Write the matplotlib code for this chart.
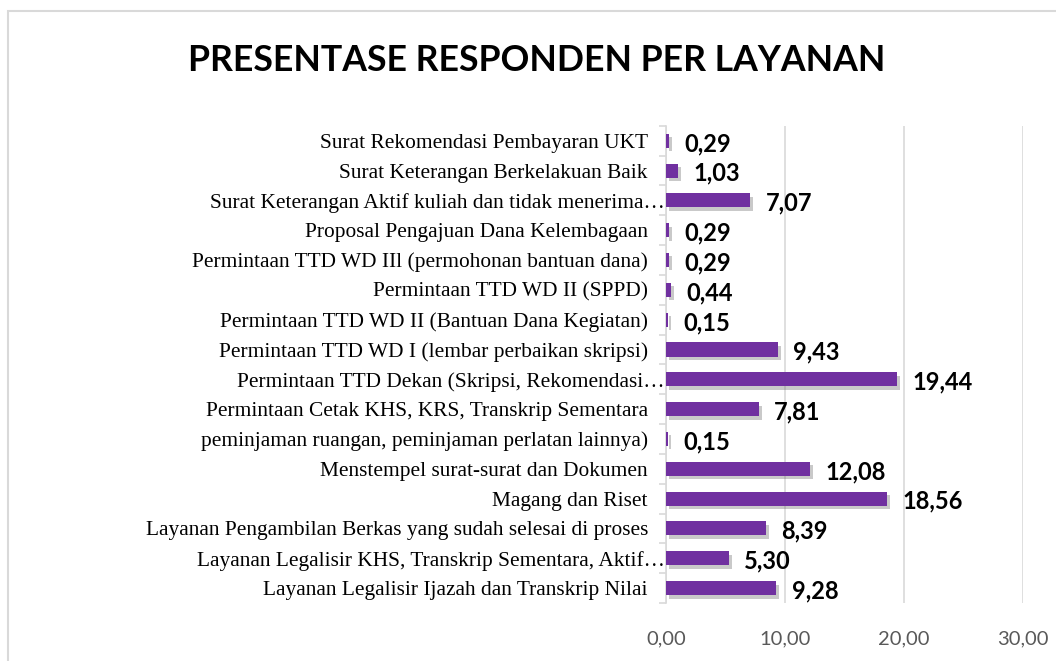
import matplotlib
matplotlib.use("Agg")
import matplotlib.pyplot as plt
import matplotlib.patheffects as pe
from matplotlib.patches import Rectangle
from matplotlib.ticker import FuncFormatter, FixedLocator

# data, bottom to top as in the chart
layanan = [
    "Layanan Legalisir Ijazah dan Transkrip Nilai",
    "Layanan Legalisir KHS, Transkrip Sementara, Aktif\u2026",
    "Layanan Pengambilan Berkas yang sudah selesai di proses",
    "Magang dan Riset",
    "Menstempel surat-surat dan Dokumen",
    "peminjaman ruangan, peminjaman perlatan lainnya)",
    "Permintaan Cetak KHS, KRS, Transkrip Sementara",
    "Permintaan TTD Dekan (Skripsi, Rekomendasi\u2026",
    "Permintaan TTD WD I (lembar perbaikan skripsi)",
    "Permintaan TTD WD II (Bantuan Dana Kegiatan)",
    "Permintaan TTD WD II (SPPD)",
    "Permintaan TTD WD IIl (permohonan bantuan dana)",
    "Proposal Pengajuan Dana Kelembagaan",
    "Surat Keterangan Aktif kuliah dan tidak menerima\u2026",
    "Surat Keterangan Berkelakuan Baik",
    "Surat Rekomendasi Pembayaran UKT",
]
persen = [9.28, 5.30, 8.39, 18.56, 12.08, 0.15, 7.81, 19.44,
          9.43, 0.15, 0.44, 0.29, 0.29, 7.07, 1.03, 0.29]
x_ticks = [0, 10, 20, 30]

def koma(v, pos=None):
    return f"{v:.2f}".replace(".", ",")

fig = plt.figure(figsize=(10.56, 6.61), dpi=100)
# chart border (runs off the right and bottom edge)
fig.patches.append(Rectangle((0.0076, -0.02), 1.0, 1.003, transform=fig.transFigure,
                             fill=False, edgecolor="#D9D9D9", linewidth=1.5))

ax = fig.add_axes([0.6307, 0.0877, 0.338, 0.722])
ypos = list(range(len(layanan)))
bars = ax.barh(ypos, persen, height=0.47, color="#7030A0", zorder=3)
for b in bars:
    b.set_path_effects([pe.SimplePatchShadow(offset=(2, -2.5), shadow_rgbFace="#666666", alpha=0.35),
                        pe.Normal()])

# data labels
for y, v in zip(ypos, persen):
    ax.annotate(koma(v), (v, y), xytext=(11, -2), textcoords="offset points",
                va="center", ha="left", fontsize=17, fontweight="bold",
                family="Lato", color="#000000")

ax.set_xlim(0, 30)
ax.set_ylim(-0.5, len(layanan) - 0.5)
ax.xaxis.set_major_locator(FixedLocator(x_ticks))
ax.xaxis.set_major_formatter(FuncFormatter(koma))
ax.grid(axis="x", color="#D9D9D9", linewidth=1.2, zorder=0)

# category labels drawn by hand: truncated ones run up to the axis like in Excel
ax.set_yticks(ypos)
ax.set_yticklabels([])
for y, nama in zip(ypos, layanan):
    geser = -1 if nama.endswith("\u2026") else -13
    ax.annotate(nama, (0, y), xycoords=ax.get_yaxis_transform(), xytext=(geser, 0),
                textcoords="offset points", ha="right", va="center_baseline",
                family="Liberation Serif", fontsize=15.4, color="#000000")
ax.yaxis.set_minor_locator(FixedLocator([i - 0.5 for i in range(len(layanan) + 1)]))
ax.tick_params(axis="y", which="major", length=0)
ax.tick_params(axis="y", which="minor", length=5, color="#D9D9D9", width=1.2)
ax.tick_params(axis="x", length=0, pad=20, labelsize=14.5, labelcolor="#595959")
for lab in ax.get_xticklabels():
    lab.set_family("Lato")

for s in ["top", "right", "bottom"]:
    ax.spines[s].set_visible(False)
ax.spines["left"].set_color("#D9D9D9")
ax.spines["left"].set_linewidth(1.2)

fig.text(0.508, 0.908, "PRESENTASE RESPONDEN PER LAYANAN", ha="center", va="center",
         fontsize=25.7, fontweight="bold", family="Lato", color="#000000")

fig.savefig("out.png", dpi=100)
